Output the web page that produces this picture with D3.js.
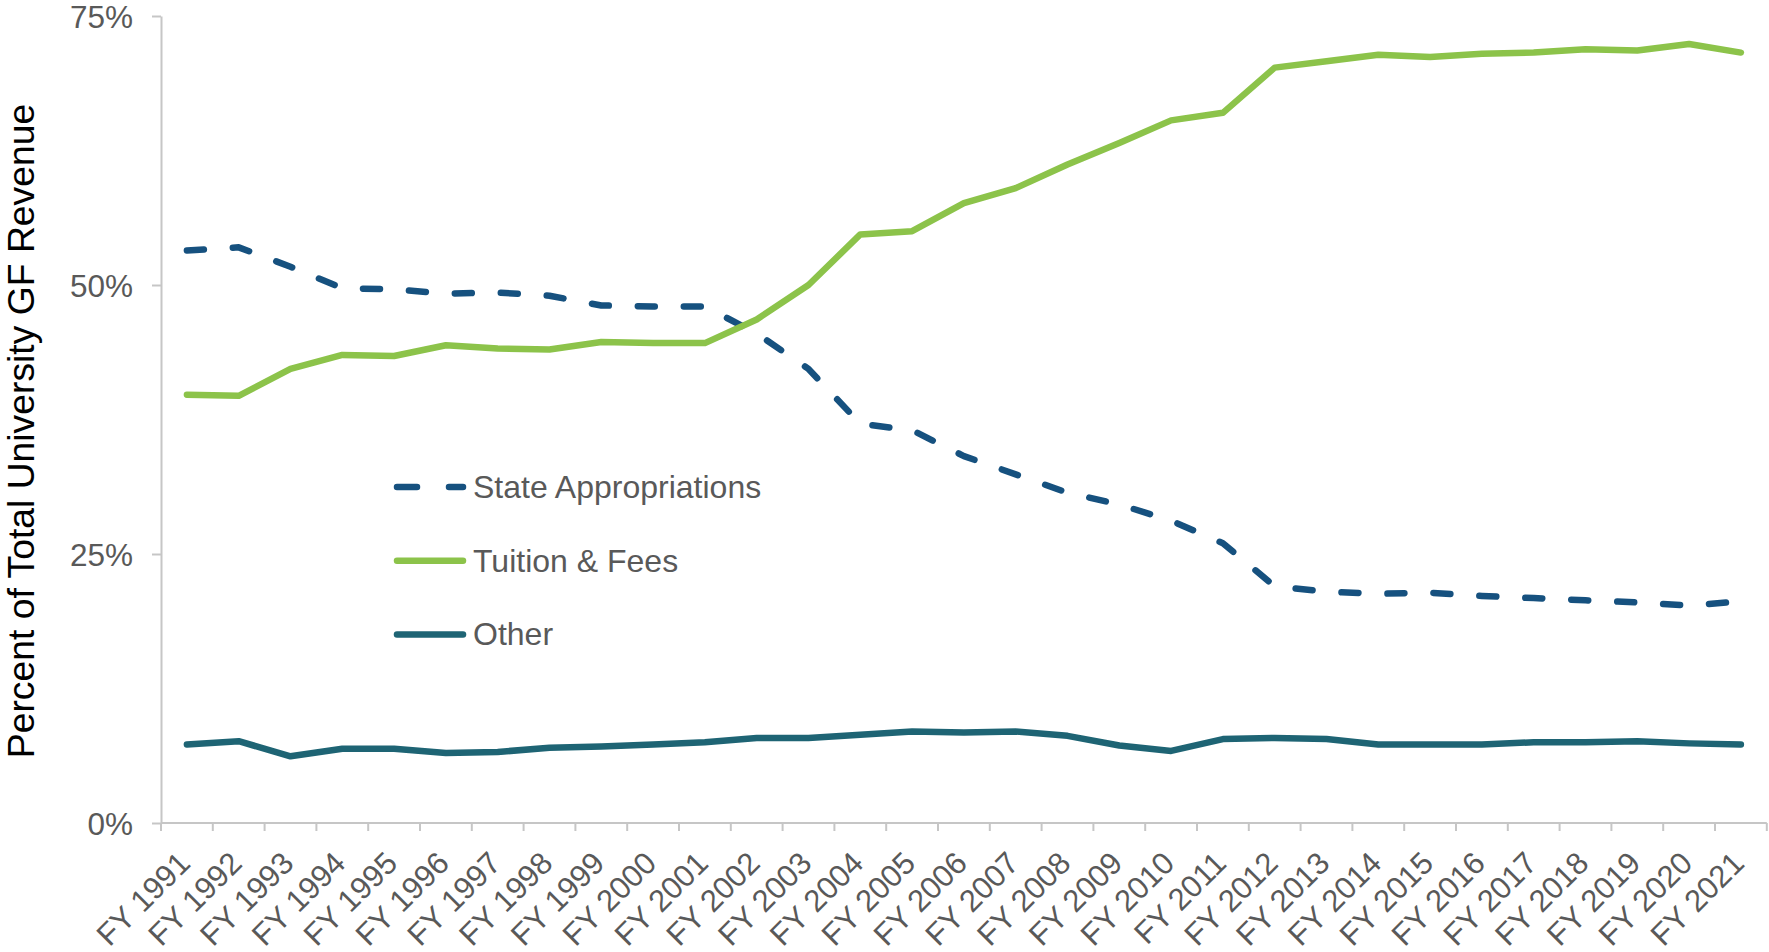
<!DOCTYPE html>
<html>
<head>
<meta charset="utf-8">
<script src="https://cdn.jsdelivr.net/npm/d3@7"></script>
<style>
  html, body { margin: 0; padding: 0; background: #fff; }
  svg { display: block; font-family: "Liberation Sans", Arial, sans-serif; }
</style>
</head>
<body>
<div id="chart"></div>
<script>
// fiscal years on the x axis
const years = d3.range(1991, 2022).map(y => 'FY ' + y);

// share of total university GF revenue, percent
const stateAppropriations = [53.2, 53.5, 51.7, 49.7, 49.6, 49.2, 49.3, 49.0, 48.1, 48.0, 48.0,
  45.5, 42.2, 37.1, 36.5, 34.1, 32.4, 30.7, 29.6, 28.1, 26.0,
  22.0, 21.5, 21.3, 21.4, 21.1, 20.9, 20.7, 20.5, 20.2, 20.6];
const tuitionFees = [39.8, 39.7, 42.2, 43.5, 43.4, 44.4, 44.1, 44.0, 44.7, 44.6, 44.6,
  46.8, 50.0, 54.7, 55.0, 57.6, 59.0, 61.2, 63.2, 65.3, 66.0,
  70.2, 70.8, 71.4, 71.2, 71.5, 71.6, 71.9, 71.8, 72.4, 71.6];
const other = [7.3, 7.6, 6.2, 6.9, 6.9, 6.5, 6.6, 7.0, 7.1, 7.3, 7.5,
  7.9, 7.9, 8.2, 8.5, 8.4, 8.5, 8.1, 7.2, 6.7, 7.8,
  7.9, 7.8, 7.3, 7.3, 7.3, 7.5, 7.5, 7.6, 7.4, 7.3];

const yTicks = [0, 25, 50, 75];

const seriesNames = ['State Appropriations', 'Tuition & Fees', 'Other'];
const seriesColors = ['#16517f', '#8cc34a', '#1e6474'];

const width = 1769, height = 952;
const plotLeft = 161, plotRight = 1766.8, plotTop = 16, plotBottom = 823;
const textColor = '#595959';
const axisColor = '#c6c6c6';

const svg = d3.select('#chart').append('svg')
  .attr('width', width)
  .attr('height', height);

const x = d3.scaleBand().domain(years).range([plotLeft, plotRight]).padding(0);
const y = d3.scaleLinear().domain([0, 75]).range([plotBottom, plotTop]);

// y axis
const yAxis = svg.append('g')
  .attr('transform', 'translate(' + plotLeft + ',0)')
  .call(d3.axisLeft(y).tickValues(yTicks).tickFormat(d => d + '%').tickSize(9).tickPadding(19).tickSizeOuter(0));
yAxis.select('.domain').attr('stroke', axisColor).attr('stroke-width', 2);
yAxis.selectAll('.tick line').attr('stroke', axisColor).attr('stroke-width', 2);
yAxis.selectAll('.tick text')
  .attr('fill', textColor)
  .attr('font-size', 31.5)
  .attr('font-family', '"Liberation Sans", Arial, sans-serif')
  .attr('dy', '0.35em');

// x axis: line plus ticks on category boundaries
const xAxis = svg.append('g');
xAxis.append('line')
  .attr('x1', x.range()[0]).attr('x2', x.range()[1])
  .attr('y1', plotBottom).attr('y2', plotBottom)
  .attr('stroke', axisColor).attr('stroke-width', 2);

const bounds = years.map(d => x(d)).concat([x.range()[1]]);
xAxis.selectAll('.bound')
  .data(bounds)
  .enter().append('line')
  .attr('x1', d => d).attr('x2', d => d)
  .attr('y1', plotBottom).attr('y2', plotBottom + 8)
  .attr('stroke', axisColor).attr('stroke-width', 2);

xAxis.selectAll('.xlabel')
  .data(years)
  .enter().append('text')
  .attr('transform', d => 'translate(' + (x(d) + x.bandwidth() / 2 + 5) + ',' + (plotBottom + 42) + ') rotate(-45)')
  .attr('text-anchor', 'end')
  .attr('fill', textColor)
  .attr('font-size', 31)
  .text(d => d);

// y axis title
svg.append('text')
  .attr('transform', 'translate(34,431) rotate(-90)')
  .attr('text-anchor', 'middle')
  .attr('fill', '#000')
  .attr('font-size', 37.3)
  .text('Percent of Total University GF Revenue');

// lines
const line = d3.line()
  .x((d, i) => x(years[i]) + x.bandwidth() / 2)
  .y(d => y(d));

const allSeries = [stateAppropriations, tuitionFees, other];

svg.append('g').selectAll('path')
  .data(allSeries)
  .enter().append('path')
  .attr('d', line)
  .attr('fill', 'none')
  .attr('stroke', (d, i) => seriesColors[i])
  .attr('stroke-width', 6.5)
  .attr('stroke-linejoin', 'round')
  .attr('stroke-linecap', 'round')
  .attr('stroke-dasharray', (d, i) => i === 0 ? '17,29' : null);

// legend
const legend = svg.append('g').attr('transform', 'translate(397,487)');
const item = legend.selectAll('g')
  .data(seriesNames)
  .enter().append('g')
  .attr('transform', (d, i) => 'translate(0,' + i * 73.7 + ')');

item.append('line')
  .attr('x1', 0).attr('x2', 66)
  .attr('y1', 0).attr('y2', 0)
  .attr('stroke', (d, i) => seriesColors[i])
  .attr('stroke-width', 6.5)
  .attr('stroke-linecap', 'round')
  .attr('stroke-dasharray', (d, i) => i === 0 ? '20,32' : null);

item.append('text')
  .attr('x', 76)
  .attr('y', 11)
  .attr('fill', textColor)
  .attr('font-size', 32)
  .text(d => d);
</script>
</body>
</html>
